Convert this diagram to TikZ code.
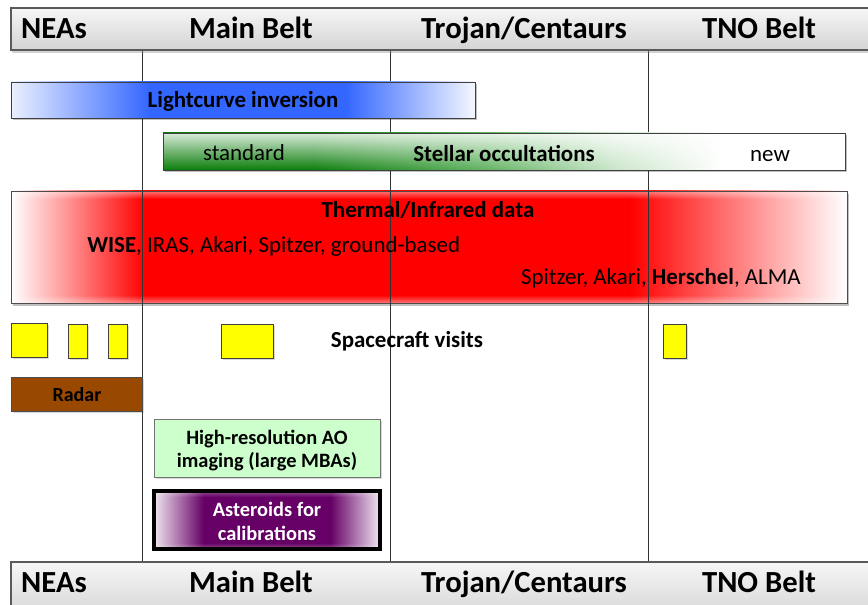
\documentclass[tikz,border=0pt]{standalone}
\usepackage{fontspec}
\setmainfont{Carlito}
\usetikzlibrary{shadows,fadings}
\definecolor{lcblue}{RGB}{51,102,255}
\definecolor{ocgreen}{RGB}{10,125,10}
\definecolor{midgreen}{RGB}{100,180,100}
\definecolor{radarbrown}{RGB}{153,72,0}
\definecolor{aogreen}{RGB}{204,255,204}
\definecolor{calpurple}{RGB}{102,0,102}
\definecolor{hdrtop}{RGB}{246,246,246}
\definecolor{hdrbot}{RGB}{212,212,212}
\definecolor{hdrline}{RGB}{90,90,90}
\definecolor{ylw}{RGB}{255,255,0}
\pgfdeclarehorizontalshading{blueband}{100bp}{color(0bp)=(white); color(25bp)=(white!90!lcblue); color(40bp)=(lcblue); color(61bp)=(lcblue); color(75bp)=(white!95!lcblue); color(100bp)=(white)}
\pgfdeclarehorizontalshading{greenband}{100bp}{color(0bp)=(ocgreen); color(25bp)=(ocgreen); color(36bp)=(ocgreen); color(49bp)=(midgreen); color(58bp)=(white!65!midgreen); color(66bp)=(white); color(100bp)=(white)}
\pgfdeclarehorizontalshading{redband}{100bp}{color(0bp)=(white); color(25bp)=(white); color(33bp)=(red); color(62bp)=(red); color(75bp)=(white); color(100bp)=(white)}
\pgfdeclarehorizontalshading{purpleband}{100bp}{color(0bp)=(white); color(25bp)=(white!90!calpurple); color(36bp)=(calpurple); color(64bp)=(calpurple); color(75bp)=(white!90!calpurple); color(100bp)=(white)}
\tikzset{
  hdrtext/.style={font=\fontsize{23}{25}\selectfont\bfseries, inner sep=0pt, anchor=base},
  bodytext/.style={font=\fontsize{17.2}{19}\selectfont, inner sep=0pt, anchor=base},
  boldtext/.style={font=\fontsize{17.2}{19}\selectfont\bfseries, inner sep=0pt, anchor=base},
  smallbold/.style={font=\fontsize{15.3}{17}\selectfont\bfseries, inner sep=0pt, anchor=base},
  hdrbox/.style={top color=hdrtop, bottom color=hdrbot, draw=hdrline, line width=0.8pt,
     drop shadow={shadow xshift=1pt, shadow yshift=-2pt, opacity=0.35}},
  boxshadow/.style={drop shadow={shadow xshift=1.2pt, shadow yshift=-1.5pt, opacity=0.3}},
  scbox/.style={fill=ylw, draw=black!75, line width=0.6pt, boxshadow},
  divider/.style={black!80, line width=0.6pt},
}
\begin{document}
\begin{tikzpicture}[x=0.75pt, y=-0.75pt]
\useasboundingbox (0,0) rectangle (868,605);
\clip (0,0) rectangle (868,605);
\fill[white] (0,0) rectangle (868,605);

% Thermal box (under the divider lines)
\fill[black, opacity=0.25] (13,194) rectangle (849,306);
\shade[shading=redband] (11,191) rectangle (847,303);
\fill[white, opacity=0.45, path fading=south] (11,191) rectangle (847,199);
\fill[white, opacity=0.45, path fading=north] (11,295) rectangle (847,303);
\draw[black!70, line width=0.6pt] (11,191) rectangle (847,303);

% divider lines
\coordinate (d1t) at (142,50);  \coordinate (d1b) at (142,562);
\coordinate (d2t) at (390,50);  \coordinate (d2b) at (390,562);
\coordinate (d3t) at (648,50);  \coordinate (d3b) at (648,562);
\draw[divider] (d1t) -- (d1b);
\draw[divider] (d2t) -- (d2b);
\draw[divider] (d3t) -- (d3b);

% header boxes
\path[hdrbox] (11,8) rectangle (880,50);
\path[hdrbox] (11,562) rectangle (880,620);
\node[hdrtext] (h1) at (54,39) {NEAs};
\node[hdrtext] (h2) at (251,39) {Main Belt};
\node[hdrtext] (h3) at (524,39) {Trojan/Centaurs};
\node[hdrtext] (h4) at (759,39) {TNO Belt};
\node[hdrtext] (f1) at (54,593) {NEAs};
\node[hdrtext] (f2) at (251,593) {Main Belt};
\node[hdrtext] (f3) at (524,593) {Trojan/Centaurs};
\node[hdrtext] (f4) at (759,593) {TNO Belt};

% Lightcurve inversion
\fill[black, opacity=0.25] (13,84) rectangle (477,120);
\shade[shading=blueband] (11,82) rectangle (475,118);
\draw[black!75, line width=0.6pt] (11,82) rectangle (475,118);
\node[boldtext] (lc) at (243,108) {Lightcurve inversion};

% Stellar occultations
\fill[black, opacity=0.25] (165,135) rectangle (847,172);
\shade[shading=greenband] (163,133) rectangle (845,170);
\fill[white, opacity=0.85, path fading=south] (163,133) rectangle (845,170);
\draw[black!75, line width=0.6pt] (163,133) rectangle (845,170);
\node[bodytext] (std) at (244,161) {standard};
\node[boldtext] (so) at (504,162) {Stellar occultations};
\node[bodytext] (new) at (770,162) {new};

% Thermal texts
\node[boldtext] (th) at (428,218) {Thermal/Infrared data};
\node[bodytext, anchor=base west] (th1) at (87,253) {\textbf{WISE}, IRAS, Akari, Spitzer, ground-based};
\node[bodytext, anchor=base east] (th2) at (801,285) {Spitzer, Akari, \textbf{Herschel}, ALMA};

% Spacecraft visits
\path[scbox] (11,323) rectangle (47,357);
\path[scbox] (68,324) rectangle (87,358);
\path[scbox] (108,324) rectangle (127,358);
\path[scbox] (221,324) rectangle (273,358);
\path[scbox] (663,324) rectangle (686,358);
\node[boldtext] (sc) at (407,348) {Spacecraft visits};

% Radar
\path[fill=radarbrown, draw=black!70, line width=0.6pt, boxshadow] (11,377) rectangle (142,411);
\node[font=\fontsize{15}{17}\selectfont\bfseries, inner sep=0pt, anchor=base] (rad) at (77,402) {Radar};

% AO imaging
\path[fill=aogreen, draw=black!55, line width=0.6pt, boxshadow] (154,419) rectangle (380,477);
\node[smallbold] (ao1) at (267,445) {High-resolution AO};
\node[smallbold] (ao2) at (267,468) {imaging (large MBAs)};

% Asteroids for calibrations
\fill[black, opacity=0.25] (156,493) rectangle (382,551);
\shade[shading=purpleband] (154,491) rectangle (380,549);
\fill[white, opacity=0.3, path fading=south] (154,491) rectangle (380,497);
\fill[white, opacity=0.3, path fading=north] (154,543) rectangle (380,549);
\draw[black, line width=2.4pt] (154,491) rectangle (380,549);
\node[smallbold, text=white] (cal1) at (267,517) {Asteroids for};
\node[smallbold, text=white] (cal2) at (267,541) {calibrations};
\end{tikzpicture}
\end{document}
